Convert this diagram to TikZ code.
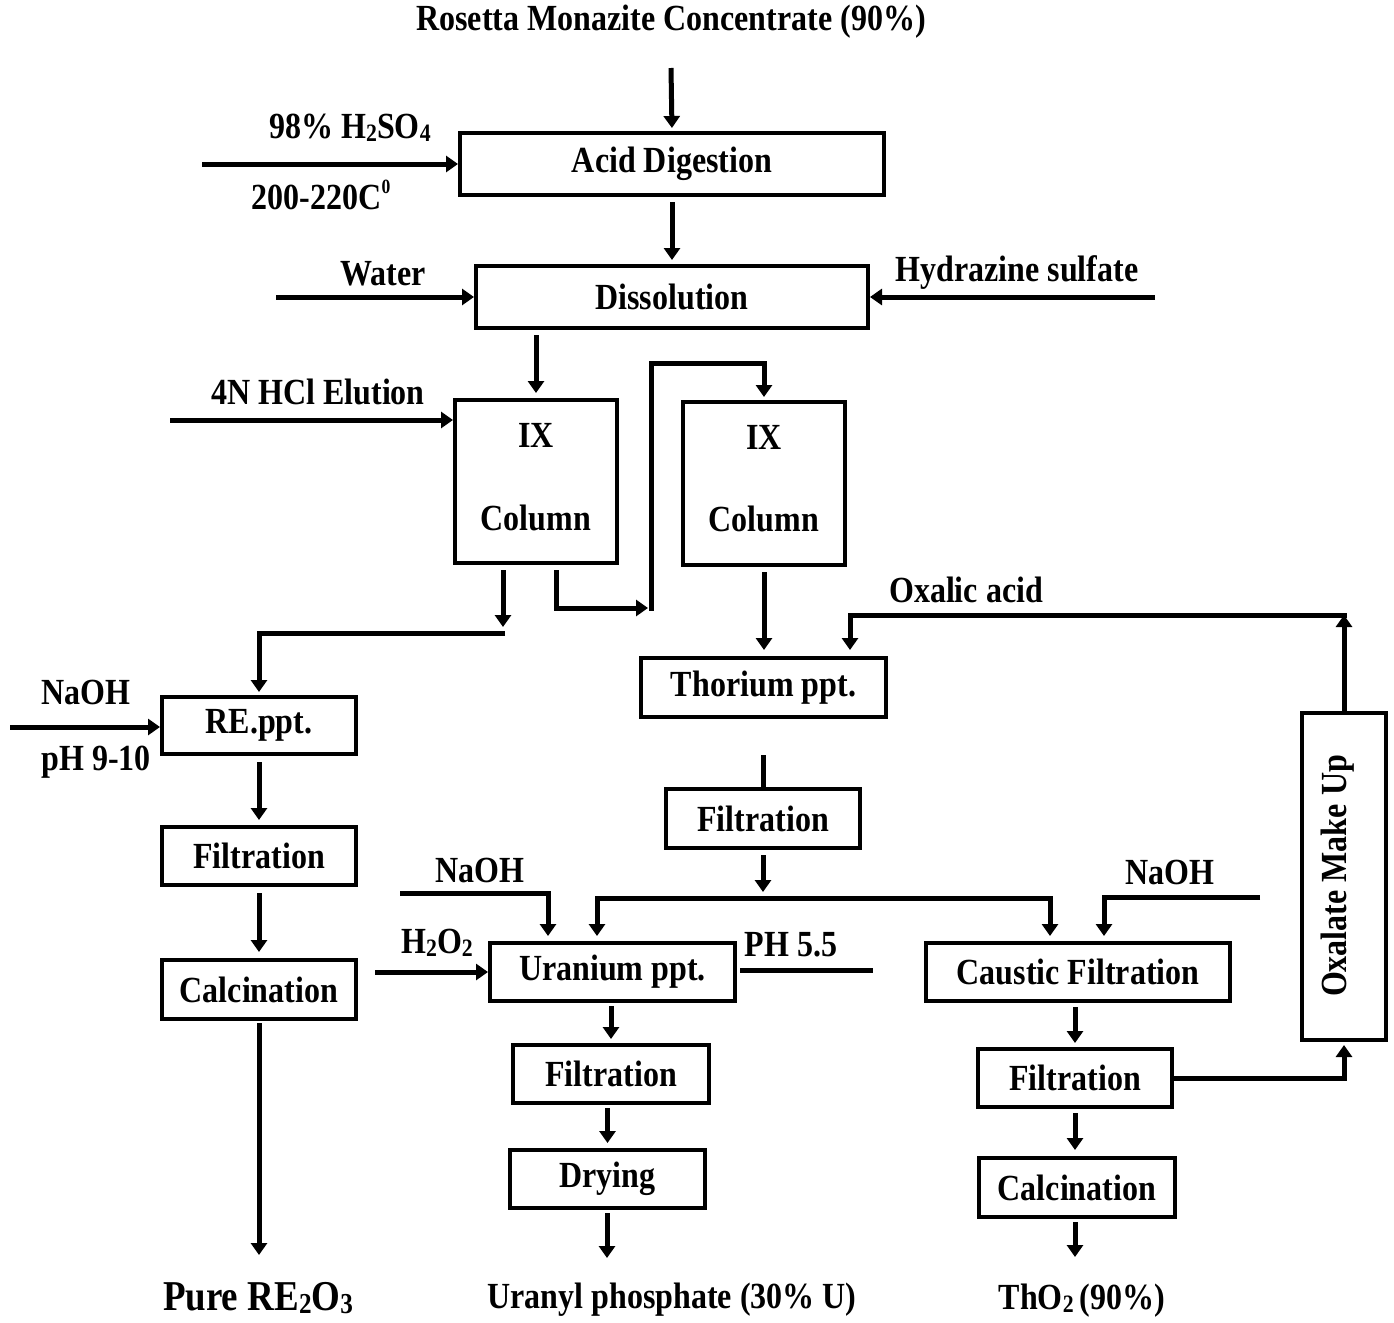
\documentclass[tikz,border=0pt]{standalone}
\usepackage{fontspec}
\usepackage{graphicx}
\setmainfont{Liberation Serif}[FakeStretch=0.87]
\usetikzlibrary{arrows.meta}
\newcommand\subs[1]{\raisebox{-0.18ex}{\scalebox{0.68}{#1}}}
\newcommand\sups[1]{\raisebox{0.9ex}{\scalebox{0.55}{#1}}}
\begin{document}
\begin{tikzpicture}[x=1pt,y=-1pt,
  every node/.style={font=\fontsize{36.8}{40}\selectfont\bfseries, inner sep=0pt},
  box/.style={draw, line width=4pt},
  arr/.style={line width=5pt, -{Triangle[length=12pt,width=16pt]}},
  ln/.style={line width=5pt},
]
\useasboundingbox (0,0) rectangle (1394,1322);

% boxes
\node[box, minimum width=424pt, minimum height=62pt] (acid) at (672,164) {Acid Digestion};
\node[box, minimum width=392pt, minimum height=62pt] (diss) at (672,297) {Dissolution};
\node[box, minimum width=162pt, minimum height=163pt] (ix1) at (536,481.5) {};
\node (ix1a) at (536,435) {IX};
\node (ix1b) at (536,518) {Column};
\node[box, minimum width=162pt, minimum height=163pt] (ix2) at (764,483.5) {};
\node (ix2a) at (764,437) {IX};
\node (ix2b) at (764,519) {Column};
\node[box, minimum width=245pt, minimum height=59pt] (thor) at (763.5,687.5) {Thorium ppt.};
\node[box, minimum width=194pt, minimum height=57pt] (re) at (259,725.5) {RE.ppt.};
\node[box, minimum width=194pt, minimum height=58pt] (filtL) at (259,856) {Filtration};
\node[box, minimum width=194pt, minimum height=59pt] (calcL) at (259,989.5) {Calcination};
\node[box, minimum width=194pt, minimum height=59pt] (filtC) at (763,818.5) {Filtration};
\node[box, minimum width=245pt, minimum height=58pt] (uran) at (612.5,972) {Uranium ppt.};
\node[box, minimum width=304pt, minimum height=58pt] (caus) at (1078,972) {Caustic Filtration};
\node[box, minimum width=194pt, minimum height=58pt] (filtR) at (1075,1078) {Filtration};
\node[box, minimum width=196pt, minimum height=59pt] (calcR) at (1077,1187.5) {Calcination};
\node[box, minimum width=196pt, minimum height=58pt] (filtU) at (611,1074) {Filtration};
\node[box, minimum width=195pt, minimum height=58pt] (dry) at (607.5,1179) {Drying};
\node[box, minimum width=84pt, minimum height=327pt] (oxal) at (1344,876.5) {};
\node[rotate=90] (oxaltxt) at (1338,876) {Oxalate Make Up};

% labels
\node (title) at (671,22) {Rosetta Monazite Concentrate (90\%)};
\node (h2so4) at (350,128) {98\% H\subs{2}SO\subs{4}};
\node (temp) at (321,195) {200-220C\sups{0}};
\node (water) at (383,274) {Water};
\node (hydr) at (1017,273) {Hydrazine sulfate};
\node (hcl) at (318,392) {4N HCl Elution};
\node (naohL) at (86,692) {NaOH};
\node (ph910) at (96,762) {pH 9-10};
\node (oxalic) at (966,590) {Oxalic acid};
\node (naohU) at (480,870) {NaOH};
\node (h2o2) at (437,943) {H\subs{2}O\subs{2}};
\node (ph55) at (791,945) {PH 5.5};
\node (naohR) at (1170,872) {NaOH};
\node[font=\fontsize{42.5}{46}\selectfont\bfseries] (pure) at (258,1298) {Pure RE\subs{2}O\subs{3}};
\node (uranyl) at (672,1300) {Uranyl phosphate (30\% U)};
\node (tho2) at (1082,1301) {ThO\subs{2}\,(90\%)};

% connectors
\coordinate (inTop) at (671,68);
\draw[arr, shorten >=3pt] (inTop) -- (acid.north);
\coordinate (hs) at (202,164);
\draw[arr] (hs) -- (acid.west);
\draw[arr, shorten <=5pt, shorten >=4pt] (acid.south) -- (diss.north);
\coordinate (wt) at (276,297);
\draw[arr] (wt) -- (diss.west);
\coordinate (hz) at (1155,297);
\draw[arr] (hz) -- (diss.east);
\draw[arr, shorten <=5pt, shorten >=5pt] (diss.south -| ix1.north) -- (ix1.north);
\coordinate (hc) at (170,420);
\draw[arr] (hc) -- (hc -| ix1.west);

% IX1 right outlet to IX2
\coordinate (ix1r) at (556,608);
\coordinate (jn) at (651,608);
\coordinate (ixTop) at (651,363);
\draw[arr, shorten <=5pt, shorten >=3pt] (ix1.south -| ix1r) |- (jn);
\draw[arr, shorten >=3pt] ([yshift=-2.5pt]jn) -- (ixTop) -| (ix2.north);

% IX1 left outlet to RE
\coordinate (ix1l) at (503,627);
\draw[arr, shorten <=5pt] (ix1.south -| ix1l) -- (ix1l);
\coordinate (reL) at (505,633);
\draw[arr, shorten >=3pt] (reL) -| (re.north);
\coordinate (nl) at (10,727);
\draw[arr] (nl) -- (nl -| re.west);
\draw[arr, shorten <=6pt, shorten >=5pt] (re.south) -- (filtL.north);
\draw[arr, shorten <=6pt, shorten >=6pt] (filtL.south) -- (calcL.north);
\coordinate (pureA) at (259,1255);
\draw[arr, shorten <=2pt] (calcL.south) -- (pureA);

% IX2 to thorium
\draw[arr, shorten <=5pt, shorten >=6pt] (ix2.south) -- (ix2.south |- thor.north);
\coordinate (oxT) at (1344,615);
\draw[arr] (oxal.north) -- (oxT);
\draw[arr, shorten >=6pt] ([xshift=2.5pt]oxT) -| ([xshift=86.5pt]thor.north);
\coordinate (fcT) at (763,755);
\draw[ln] (fcT) -- (fcT |- filtC.north);

% split
\coordinate (spl) at (763,892);
\draw[arr, shorten <=5pt] (filtC.south) -- (spl);
\coordinate (sL) at (597,898);
\coordinate (sR) at (1050,898);
\draw[arr, shorten >=5pt] (sR) -- (sL) -- (sL |- uran.north);
\draw[arr, shorten >=5pt] (sL) -| (sR |- caus.north);

% uranium branch
\coordinate (nu) at (400,893);
\coordinate (nuC) at (548,893);
\draw[arr, shorten >=5pt] (nu) -| (uran.north -| nuC);
\coordinate (hp) at (375,972);
\draw[arr] (hp) -- (uran.west);
\coordinate (phE) at (873,970);
\draw[ln, shorten <=3pt] (uran.east |- phE) -- (phE);
\draw[arr, shorten <=3pt, shorten >=4pt] (uran.south -| filtU.north) -- (filtU.north);
\draw[arr, shorten <=3pt, shorten >=5pt] (filtU.south -| dry.north) -- (dry.north);
\coordinate (urA) at (607,1258);
\draw[arr, shorten <=3pt] (dry.south -| urA) -- (urA);

% thorium branch
\coordinate (nr) at (1260,897);
\coordinate (nrC) at (1104,897);
\draw[arr, shorten >=5pt] (nr) -| (caus.north -| nrC);
\draw[arr, shorten <=4pt, shorten >=4pt] (filtR.north |- caus.south) -- (filtR.north);
\draw[arr, shorten >=3pt] (filtR.east) -| (oxal.south);
\draw[arr, shorten <=4pt, shorten >=6pt] (filtR.south) -- (filtR.south |- calcR.north);
\coordinate (thoA) at (1075,1257);
\draw[arr, shorten <=3pt] (calcR.south -| thoA) -- (thoA);
\end{tikzpicture}
\end{document}
